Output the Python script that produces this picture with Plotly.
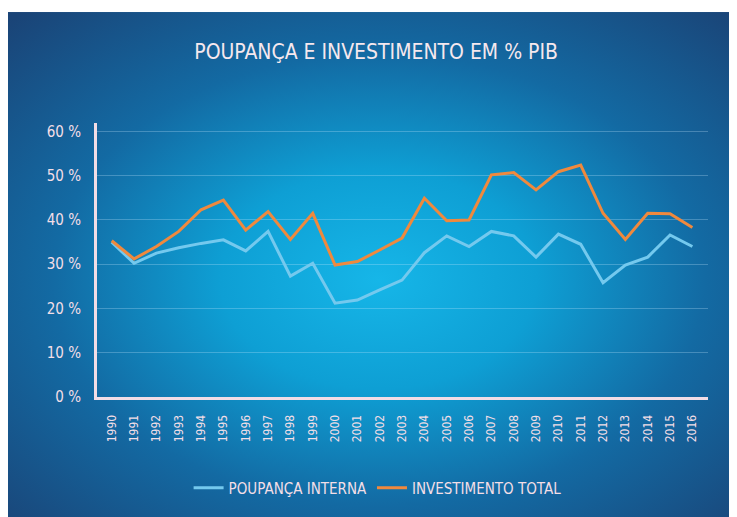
"""Poupança e investimento em % do PIB, 1990-2016."""

import base64
import plotly.graph_objects as go

years = [str(y) for y in range(1990, 2017)]
poupanca_interna = [35.0, 30.2, 32.5, 33.7, 34.7, 35.5, 33.0, 37.4, 27.3, 30.2,
                    21.2, 21.9, 24.2, 26.4, 32.6, 36.4, 34.0, 37.4, 36.4, 31.6,
                    36.8, 34.5, 25.8, 29.8, 31.6, 36.6, 34.0]
investimento_total = [35.3, 31.2, 34.0, 37.4, 42.3, 44.5, 37.7, 41.9, 35.6, 41.5,
                      29.8, 30.6, 33.2, 35.9, 44.9, 39.8, 40.0, 50.2, 50.7, 46.8,
                      50.9, 52.4, 41.5, 35.6, 41.5, 41.4, 38.3]
y_ticks = [0, 10, 20, 30, 40, 50, 60]
y_labels = [f"{v} %" for v in y_ticks]

FONT = "DejaVu Sans Condensed, Liberation Sans Narrow, sans-serif"
TEXT = "#f3dfe7"

# radial blue background, as an svg image behind everything
svg = """<svg xmlns='http://www.w3.org/2000/svg' width='731' height='505' preserveAspectRatio='none'>
<defs><radialGradient id='g' cx='0.51' cy='0.53' r='0.72'>
<stop offset='0' stop-color='#16b6e8'/>
<stop offset='0.3' stop-color='#0e9fd4'/>
<stop offset='0.62' stop-color='#136aa3'/>
<stop offset='1' stop-color='#1a4477'/>
</radialGradient></defs>
<rect width='731' height='505' fill='url(#g)'/></svg>"""
bg_src = "data:image/svg+xml;base64," + base64.b64encode(svg.encode()).decode()

fig = go.Figure()
fig.add_trace(go.Scatter(x=years, y=poupanca_interna, name="POUPANÇA INTERNA",
                         mode="lines", line=dict(color="#74c9ee", width=3)))
fig.add_trace(go.Scatter(x=years, y=investimento_total, name="INVESTIMENTO TOTAL",
                         mode="lines", line=dict(color="#f0893d", width=3)))

# page has an 8px body margin, so the figure is 729x509
# plot area: x 89..700 px, y 115..389 px
fig.add_layout_image(dict(source=bg_src, xref="paper", yref="paper",
                          x=-0.149, y=1.405, sizex=1.196, sizey=1.843,
                          xanchor="left", yanchor="top", sizing="stretch",
                          layer="below"))

fig.update_layout(
    width=729, height=509,
    margin=dict(l=89, r=29, t=115, b=120),
    paper_bgcolor="white", plot_bgcolor="rgba(0,0,0,0)",
    font=dict(family=FONT, color=TEXT),
    title=dict(text="POUPANÇA E INVESTIMENTO EM % PIB", xref="container",
               x=0.505, xanchor="center", yref="container", y=0.915,
               yanchor="middle", font=dict(size=21, color="#f6e8ee", family=FONT)),
    legend=dict(orientation="h", xref="container", x=0.507, xanchor="center",
                yref="container", y=0.057, yanchor="middle",
                font=dict(size=15, color=TEXT), bgcolor="rgba(0,0,0,0)"),
    showlegend=True,
)
fig.update_xaxes(type="category", range=[-0.66, 26.7], showgrid=False,
                 showline=True, linecolor="#f2dde6", linewidth=3,
                 tickangle=-90, tickfont=dict(size=12, color=TEXT),
                 ticklabelstandoff=10, zeroline=False)
fig.update_yaxes(range=[0, 61.9], tickvals=y_ticks, ticktext=y_labels,
                 showgrid=True, gridcolor="rgba(200,235,255,0.28)", gridwidth=1,
                 showline=True, linecolor="#f2dde6", linewidth=3,
                 tickfont=dict(size=15, color=TEXT), ticklabelstandoff=10,
                 zeroline=False)

fig.write_html("out.html")
